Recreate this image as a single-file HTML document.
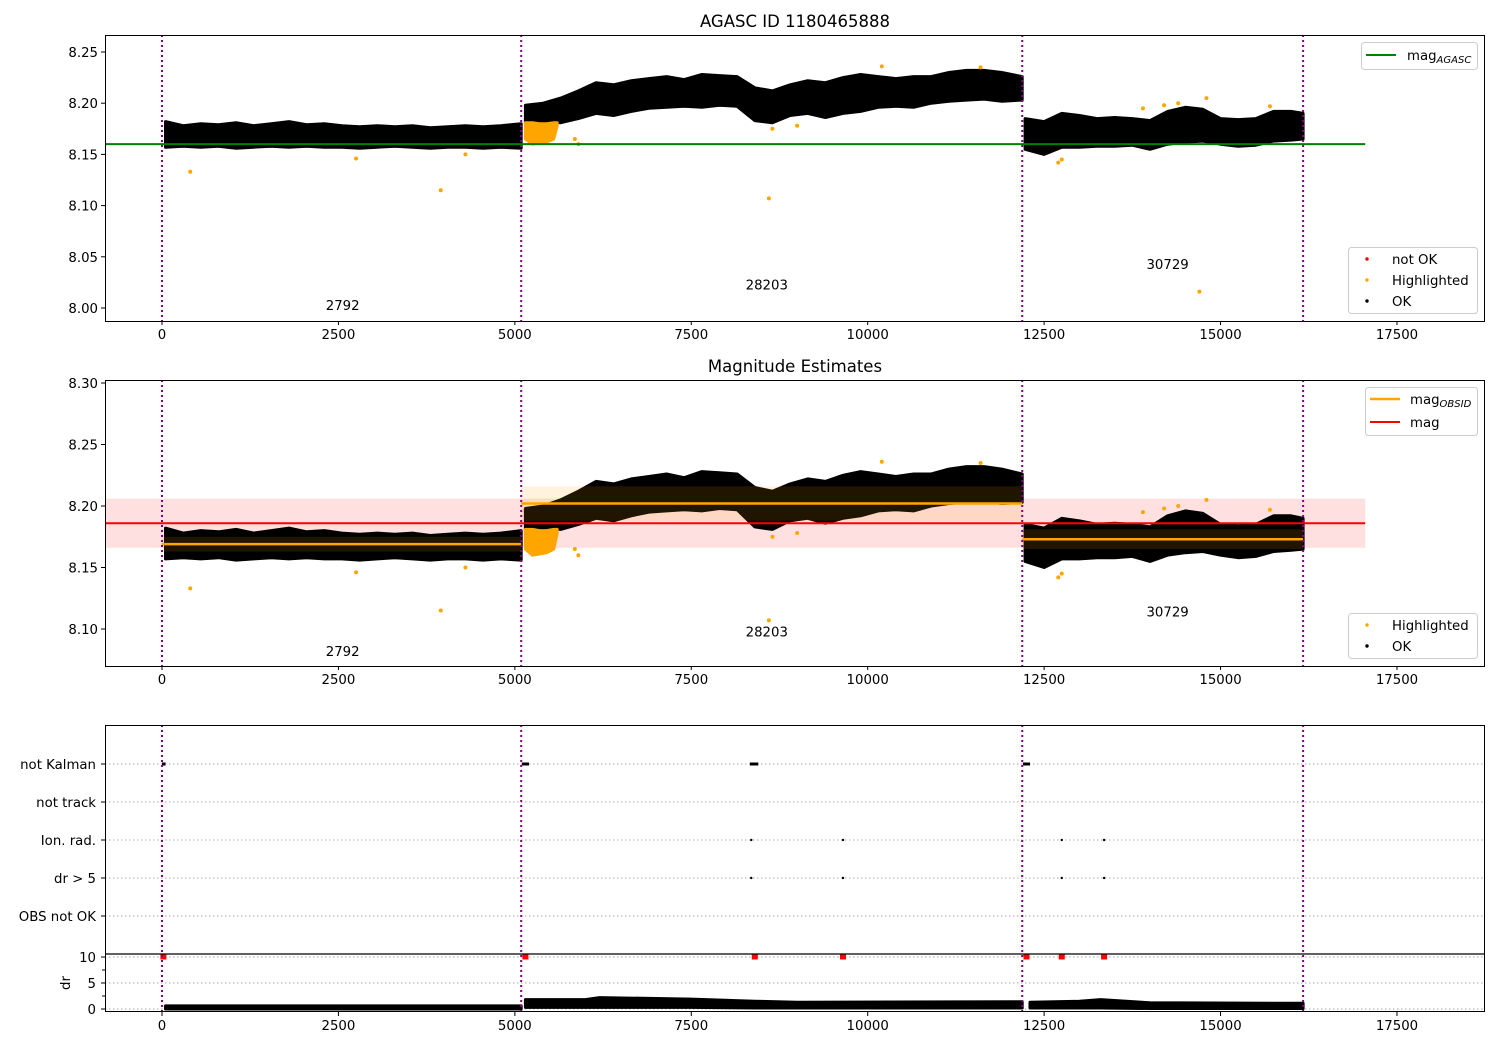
<!DOCTYPE html>
<html><head><meta charset="utf-8">
<style>
body{margin:0;background:#fff;}
svg{display:block;font-family:"DejaVu Sans","Liberation Sans",sans-serif;}
</style></head>
<body>
<svg id="chart" width="1500" height="1050" viewBox="0 0 1500 1050" xmlns="http://www.w3.org/2000/svg"></svg>
<script>
// ---- data ----
const obsStarts = [0, 5090, 12190, 16170];
const obsIds = ["2792", "28203", "30729"];
const obsLabelT = [2560, 8570, 14250];
const obsLabelV1 = [7.998, 8.018, 8.038];
const obsLabelV2 = [8.078, 8.094, 8.110];
const seg1T = [50,300,550,800,1050,1300,1550,1800,2050,2300,2550,2800,3050,3300,3550,3800,4050,4300,4550,4800,5090];
const seg1Lo = [8.157,8.158,8.157,8.158,8.156,8.157,8.158,8.157,8.158,8.157,8.157,8.156,8.157,8.158,8.157,8.156,8.157,8.157,8.156,8.157,8.156];
const seg1Hi = [8.182,8.178,8.180,8.179,8.181,8.178,8.180,8.182,8.179,8.180,8.178,8.177,8.178,8.177,8.178,8.176,8.177,8.178,8.177,8.178,8.180];
const seg2T = [5150,5400,5650,5900,6150,6400,6650,6900,7150,7400,7650,7900,8150,8400,8650,8900,9150,9400,9650,9900,10150,10400,10650,10900,11150,11400,11650,11900,12190];
const seg2Lo = [8.180,8.182,8.181,8.185,8.190,8.188,8.192,8.195,8.196,8.197,8.196,8.198,8.197,8.183,8.181,8.188,8.190,8.186,8.190,8.192,8.196,8.197,8.196,8.200,8.202,8.203,8.204,8.202,8.203];
const seg2Hi = [8.198,8.200,8.205,8.212,8.220,8.218,8.222,8.224,8.226,8.223,8.228,8.227,8.226,8.215,8.212,8.218,8.222,8.220,8.225,8.228,8.226,8.224,8.226,8.226,8.230,8.232,8.232,8.230,8.226];
const seg3T = [12230,12500,12750,13000,13250,13500,13750,14000,14250,14500,14750,15000,15250,15500,15750,16000,16170];
const seg3Lo = [8.155,8.150,8.157,8.157,8.158,8.158,8.159,8.155,8.160,8.162,8.163,8.160,8.158,8.159,8.163,8.164,8.165];
const seg3Hi = [8.185,8.182,8.190,8.188,8.185,8.186,8.185,8.183,8.192,8.196,8.194,8.185,8.184,8.185,8.192,8.192,8.190];
const hlT = [5150,5250,5350,5450,5550,5600];
const hlLo = [8.165,8.160,8.161,8.162,8.165,8.178];
const hlHi = [8.181,8.181,8.180,8.180,8.181,8.181];
const hlPtT = [400,2750,3950,4300,5850,5900,8600,8650,9000,10200,11600,12700,12750,13900,14200,14400,14700,14800,15700];
const hlPtV = [8.133,8.146,8.115,8.150,8.165,8.160,8.107,8.175,8.178,8.236,8.235,8.142,8.145,8.195,8.198,8.200,8.016,8.205,8.197];
const magAgasc = 8.160;
const magObs = [8.169, 8.202, 8.173];
const magObsStd = [0.006, 0.014, 0.008];
const magAll = 8.186;
const magAllLo = 8.166, magAllHi = 8.206;
const cats = ["not Kalman","not track","Ion. rad.","dr > 5","OBS not OK"];
const nkT0 = [0,5100,8330,12200], nkT1 = [50,5200,8450,12300];
const ionT = [8350, 9650, 12750, 13350];
const drFlagT = [20,5150,8400,9650,12250,12750,13350];
const drT = [50,5090,5150,6000,6200,7500,8400,9000,12190,12300,13000,13300,14000,16170];
const drLo = [0.0,0.0,0.3,0.3,0.3,0.3,0.2,0.2,0.2,0.2,0.2,0.2,0.1,0.1];
const drHi = [0.6,0.6,1.8,1.8,2.2,1.9,1.5,1.3,1.4,1.3,1.5,1.8,1.2,1.1];
const xTicks = [0,2500,5000,7500,10000,12500,15000,17500];
const y1Ticks = [8.00,8.05,8.10,8.15,8.20,8.25];
const y2Ticks = [8.10,8.15,8.20,8.25,8.30];
const drTicks = [0,5,10];

// ---- scales ----
const FS = 13.3;
const X = t => 162 + t*0.07057;
const Y1 = v => 308 - (v-8.0)*1024;
const Y2 = v => 629 - (v-8.1)*1230;
const YC = i => 764 + i*38;
const YD = d => 1009 - d*5.2;
const NS="http://www.w3.org/2000/svg";
const svg=document.getElementById('chart');
function el(tag,attrs,parent){const e=document.createElementNS(NS,tag);for(const k in attrs)e.setAttribute(k,attrs[k]);(parent||svg).appendChild(e);return e;}
function txt(s,attrs,parent){const e=el('text',attrs,parent);e.textContent=s;return e;}

const defs=el('defs',{});
[[1,35,286],[2,380,286],[3,725,287]].forEach(([i,y,h])=>{const c=el('clipPath',{id:'clip'+i},defs);el('rect',{x:105,y:y,width:1380,height:h},c);});

function band(T,Lo,Hi,Y,fill,g,name){
  let d='M'+T.map((t,i)=>X(t).toFixed(1)+','+Y(Hi[i]).toFixed(1)).join('L');
  for(let i=T.length-1;i>=0;i--) d+='L'+X(T[i]).toFixed(1)+','+Y(Lo[i]).toFixed(1);
  const p=el('path',{d:d+'Z',fill:fill,stroke:fill,'stroke-width':3,'stroke-linejoin':'round'},g);
  
  
}
function xAxis(yb,g){
  xTicks.forEach(t=>{el('line',{x1:X(t),x2:X(t),y1:yb,y2:yb+4,stroke:'#000'},g);
    const l=txt(String(t),{x:X(t),y:yb+18,'font-size':FS,'text-anchor':'middle'},g);
    });
}
function vlines(y0,y1,g){
  obsStarts.forEach(t=>{const l=el('line',{x1:X(t),x2:X(t),y1:y0,y2:y1,stroke:'purple','stroke-width':2,'stroke-dasharray':'2,3'},g);
    });
}
function scatterPanel(Y,clip,g){
  const dg=el('g',{'clip-path':'url(#'+clip+')'},g);
  band(seg1T,seg1Lo,seg1Hi,Y,'#000',dg,'ok-points-obs1');
  band(seg2T,seg2Lo,seg2Hi,Y,'#000',dg,'ok-points-obs2');
  band(seg3T,seg3Lo,seg3Hi,Y,'#000',dg,'ok-points-obs3');
  band(hlT,hlLo,hlHi,Y,'orange',dg,'highlighted-points-band');
  hlPtT.forEach((t,i)=>{const c=el('circle',{cx:X(t),cy:Y(hlPtV[i]),r:2,fill:'orange'},dg);
    });
  return dg;
}

// ===== Panel 1 =====
const p1=el('g',{});
txt('AGASC ID 1180465888',{x:795,y:27,'font-size':16.5,'text-anchor':'middle'},p1);
const d1=scatterPanel(Y1,'clip1',p1);
const gl=el('line',{x1:105,x2:X(17050),y1:Y1(magAgasc),y2:Y1(magAgasc),stroke:'green','stroke-width':2},d1);

vlines(35,321,p1);
obsIds.forEach((s,i)=>{txt(s,{x:X(obsLabelT[i]),y:Y1(obsLabelV1[i]),'font-size':FS,'text-anchor':'middle'},p1);});
el('rect',{x:105.5,y:35.5,width:1379,height:286,fill:'none',stroke:'#000'},p1);
y1Ticks.forEach(v=>{el('line',{x1:101,x2:105,y1:Y1(v),y2:Y1(v),stroke:'#000'},p1);
  txt(v.toFixed(2),{x:98,y:Y1(v)+5,'font-size':FS,'text-anchor':'end'},p1);});
xAxis(321,p1);
// legends
const lg1=el('g',{});
el('rect',{x:1361.5,y:42.5,width:116,height:27,rx:3,fill:'#fff',stroke:'#ccc'},lg1);
el('line',{x1:1366,x2:1396,y1:55,y2:55,stroke:'green','stroke-width':2},lg1);
const t1=txt('mag',{x:1407,y:60,'font-size':FS},lg1);const ts=el('tspan',{'font-size':10,'font-style':'italic',dy:3},t1);ts.textContent='AGASC';
const lg2=el('g',{});
el('rect',{x:1348.5,y:247.5,width:129,height:66,rx:3,fill:'#fff',stroke:'#ccc'},lg2);
[['red','not OK',259],['orange','Highlighted',280],['#000','OK',301]].forEach(([c,s,y])=>{
  el('circle',{cx:1367,cy:y,r:1.7,fill:c},lg2);txt(s,{x:1392,y:y+5,'font-size':FS},lg2);});

// ===== Panel 2 =====
const p2=el('g',{});
txt('Magnitude Estimates',{x:795,y:372,'font-size':16.5,'text-anchor':'middle'},p2);
const pk=el('rect',{x:105,y:Y2(magAllHi),width:X(17050)-105,height:Y2(magAllLo)-Y2(magAllHi),fill:'red','fill-opacity':0.12},p2);

const d2=scatterPanel(Y2,'clip2',p2);
magObs.forEach((m,i)=>{
  const b=el('rect',{x:X(obsStarts[i]),y:Y2(m+magObsStd[i]),width:X(obsStarts[i+1])-X(obsStarts[i]),height:Y2(m-magObsStd[i])-Y2(m+magObsStd[i]),fill:'orange','fill-opacity':0.13},d2);
  
  const l=el('line',{x1:X(obsStarts[i]),x2:X(obsStarts[i+1]),y1:Y2(m),y2:Y2(m),stroke:'orange','stroke-width':2.5},d2);
  
});
const rl=el('line',{x1:105,x2:X(17050),y1:Y2(magAll),y2:Y2(magAll),stroke:'red','stroke-width':2},d2);

vlines(380,666,p2);
obsIds.forEach((s,i)=>{txt(s,{x:X(obsLabelT[i]),y:Y2(obsLabelV2[i]),'font-size':FS,'text-anchor':'middle'},p2);});
el('rect',{x:105.5,y:380.5,width:1379,height:286,fill:'none',stroke:'#000'},p2);
y2Ticks.forEach(v=>{el('line',{x1:101,x2:105,y1:Y2(v),y2:Y2(v),stroke:'#000'},p2);
  txt(v.toFixed(2),{x:98,y:Y2(v)+5,'font-size':FS,'text-anchor':'end'},p2);});
xAxis(666,p2);
const lg3=el('g',{});
el('rect',{x:1365.5,y:387.5,width:112,height:48,rx:3,fill:'#fff',stroke:'#ccc'},lg3);
el('line',{x1:1370,x2:1400,y1:399,y2:399,stroke:'orange','stroke-width':2.5},lg3);
const t3=txt('mag',{x:1410,y:404,'font-size':FS},lg3);const ts3=el('tspan',{'font-size':10,'font-style':'italic',dy:3},t3);ts3.textContent='OBSID';
el('line',{x1:1370,x2:1400,y1:422,y2:422,stroke:'red','stroke-width':2},lg3);
txt('mag',{x:1410,y:427,'font-size':FS},lg3);
const lg4=el('g',{});
el('rect',{x:1348.5,y:613.5,width:129,height:45,rx:3,fill:'#fff',stroke:'#ccc'},lg4);
[['orange','Highlighted',625],['#000','OK',646]].forEach(([c,s,y])=>{
  el('circle',{cx:1367,cy:y,r:1.7,fill:c},lg4);txt(s,{x:1392,y:y+5,'font-size':FS},lg4);});

// ===== Panel 3 =====
const p3=el('g',{});
cats.forEach((c,i)=>{el('line',{x1:105,x2:1485,y1:YC(i),y2:YC(i),stroke:'#aaa','stroke-dasharray':'1.5,2.5'},p3);
  el('line',{x1:101,x2:105,y1:YC(i),y2:YC(i),stroke:'#000'},p3);
  txt(c,{x:96,y:YC(i)+5,'font-size':FS,'text-anchor':'end'},p3);});
drTicks.forEach(d=>{el('line',{x1:105,x2:1485,y1:YD(d),y2:YD(d),stroke:'#aaa','stroke-dasharray':'1.5,2.5'},p3);
  el('line',{x1:101,x2:105,y1:YD(d),y2:YD(d),stroke:'#000'},p3);
  txt(String(d),{x:96,y:YD(d)+5,'font-size':FS,'text-anchor':'end'},p3);});
[2.5,7.5].forEach(d=>el('line',{x1:102,x2:105,y1:YD(d),y2:YD(d),stroke:'#000'},p3));
const drl=txt('dr',{x:70,y:983,'font-size':FS,'text-anchor':'middle',transform:'rotate(-90 70 983)'},p3);

const d3=el('g',{'clip-path':'url(#clip3)'},p3);
nkT0.forEach((t,i)=>{const r=el('rect',{x:X(t),y:YC(0)-1.5,width:Math.max(3,X(nkT1[i])-X(t)),height:3,fill:'#000'},d3);
  });
ionT.forEach(t=>{[2,3].forEach(ci=>{const c=el('circle',{cx:X(t),cy:YC(ci),r:1.2,fill:'#000'},d3);
  });});
[0,1,2].forEach(s=>{
  const idx=drT.map((t,i)=>i).filter(i=>drT[i]>=obsStarts[s]+(s?1:0)&&drT[i]<=obsStarts[s+1]);
  band(idx.map(i=>drT[i]),idx.map(i=>drLo[i]),idx.map(i=>drHi[i]),YD,'#000',d3,'dr-points-obs'+(s+1));
});
drFlagT.forEach(t=>{const y=YD(10);const p=el('path',{d:`M${X(t)-3},${y+2.5}L${X(t)+3},${y+2.5}L${X(t)+3},${y-2.5}L${X(t)-3},${y-2.5}Z`,fill:'red'},d3);
  });
vlines(725,1012,p3);
el('line',{x1:105,x2:1485,y1:954,y2:954,stroke:'#000','stroke-width':1.2},p3);
el('rect',{x:105.5,y:725.5,width:1379,height:286,fill:'none',stroke:'#000'},p3);
xAxis(1012,p3);
</script>
</body></html>
